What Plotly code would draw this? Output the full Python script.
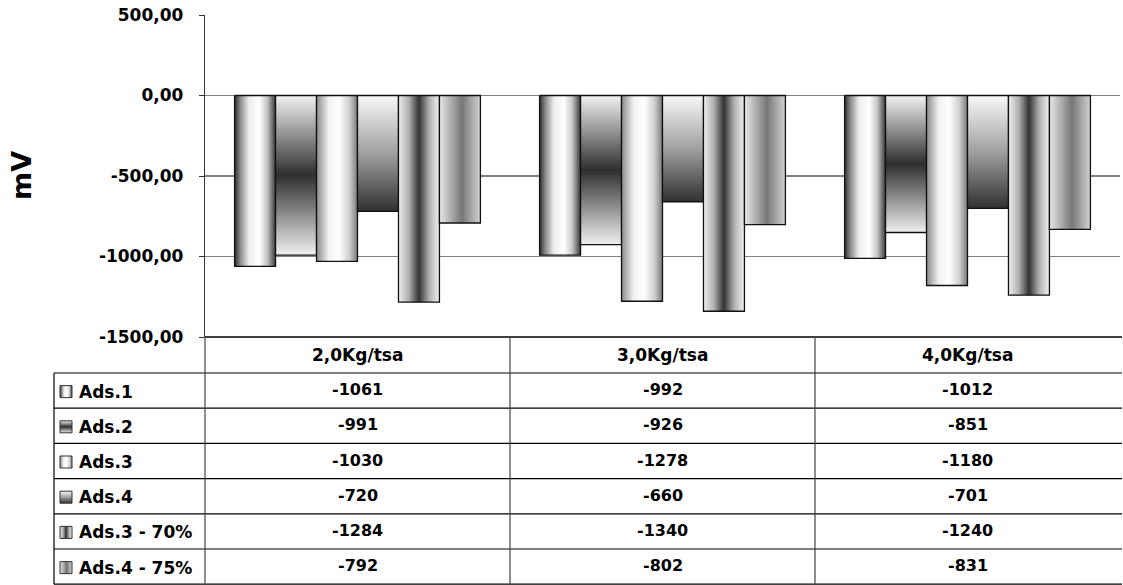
import plotly.graph_objects as go

# ---------------- data ----------------
categories = ["2,0Kg/tsa", "3,0Kg/tsa", "4,0Kg/tsa"]
series_names = ["Ads.1", "Ads.2", "Ads.3", "Ads.4", "Ads.3 - 70%", "Ads.4 - 75%"]
ads1 = [-1061, -992, -1012]
ads2 = [-991, -926, -851]
ads3 = [-1030, -1278, -1180]
ads4 = [-720, -660, -701]
ads3_70 = [-1284, -1340, -1240]
ads4_75 = [-792, -802, -831]
y_tickvals = [500, 0, -500, -1000, -1500]
y_ticktext = ["500,00", "0,00", "-500,00", "-1000,00", "-1500,00"]

series_values = [ads1, ads2, ads3, ads4, ads3_70, ads4_75]

# ---------------- styles ----------------
W, H = 1123, 585
FONT = "DejaVu Sans"
styles = [
    ("horizontal", [[0, "#2e2e2e"], [0.15, "#8f8f8f"], [0.35, "#eeeeee"], [0.6, "#ffffff"], [0.8, "#c4c4c4"], [1, "#383838"]]),
    ("vertical", [[0, "#f0f0f0"], [0.5, "#2e2e2e"], [1, "#f2f2f2"]]),
    ("horizontal", [[0, "#8a8a8a"], [0.3, "#f2f2f2"], [0.55, "#ffffff"], [0.8, "#d0d0d0"], [1, "#7a7a7a"]]),
    ("vertical", [[0, "#303030"], [0.5, "#a0a0a0"], [1, "#f8f8f8"]]),
    ("horizontal", [[0, "#f0f0f0"], [0.25, "#b0b0b0"], [0.5, "#333333"], [0.75, "#b0b0b0"], [1, "#f2f2f2"]]),
    ("horizontal", [[0, "#e8e8e8"], [0.55, "#777777"], [1, "#d2d2d2"]]),
]

plot_left, plot_right, plot_top, plot_bottom = 205, 1120, 15, 337
table_left, table_right = 54, 1122
row_edges = [337, 373] + [373 + 35.2 * k for k in range(1, 7)]


def px_x(p):
    return p / W


def px_y(p):
    return 1 - p / H


group_width = 0.806
bar_w = group_width / len(series_values)

fig = go.Figure()

for j, vals in enumerate(series_values):
    gtype, cscale = styles[j]
    for i, v in enumerate(vals):
        x0 = i - group_width / 2 + j * bar_w
        x1 = x0 + bar_w
        fig.add_trace(go.Scatter(
            x=[x0, x1, x1, x0, x0], y=[0, 0, v, v, 0],
            mode="lines", fill="toself",
            line=dict(color="#111111", width=1.3),
            fillgradient=dict(type=gtype, colorscale=cscale),
            hoverinfo="skip", showlegend=False,
            xaxis="x", yaxis="y",
        ))

# legend icons in the data table
for j, name in enumerate(series_names):
    gtype, cscale = styles[j]
    yc = (row_edges[j + 1] + row_edges[j + 2]) / 2 + 1
    x0, x1 = 60, 72
    y0, y1 = yc - 6, yc + 6
    fig.add_trace(go.Scatter(
        x=[x0, x1, x1, x0, x0], y=[y0, y0, y1, y1, y0],
        mode="lines", fill="toself",
        line=dict(color="#333333", width=1),
        fillgradient=dict(type=gtype, colorscale=cscale),
        hoverinfo="skip", showlegend=False,
        xaxis="x2", yaxis="y2",
    ))

shapes = []
line_col = "#000000"


def hline(y, xa, xb, color=line_col, width=1.2):
    shapes.append(dict(type="line", xref="paper", yref="paper",
                       x0=px_x(xa), x1=px_x(xb), y0=px_y(y), y1=px_y(y),
                       line=dict(color=color, width=width)))


def vline(x, ya, yb, color=line_col, width=1.2):
    shapes.append(dict(type="line", xref="paper", yref="paper",
                       x0=px_x(x), x1=px_x(x), y0=px_y(ya), y1=px_y(yb),
                       line=dict(color=color, width=width)))


hline(row_edges[0], plot_left, table_right, width=1.5)
for r in row_edges[1:]:
    hline(r, table_left, table_right)
col_edges = [plot_left + (plot_right - plot_left) * k / 3 for k in range(4)]
vline(plot_left, row_edges[0], row_edges[-1], color="#444444")
for cx in col_edges[1:3]:
    vline(cx, row_edges[0], row_edges[-1], color="#444444")
vline(table_left, row_edges[1], row_edges[-1])

annotations = []
for i, c in enumerate(categories):
    annotations.append(dict(x=i, xref="x", y=px_y((row_edges[0] + row_edges[1]) / 2), yref="paper",
                            text="<b>%s</b>" % c, showarrow=False,
                            xanchor="center", yanchor="middle",
                            font=dict(family=FONT, size=17, color="#000")))
for j, name in enumerate(series_names):
    yc = (row_edges[j + 1] + row_edges[j + 2]) / 2
    annotations.append(dict(x=px_x(77), xref="paper", y=px_y(yc + 1), yref="paper",
                            text="<b>%s</b>" % name, showarrow=False,
                            xanchor="left", yanchor="middle",
                            font=dict(family=FONT, size=17, color="#000")))
    for i, v in enumerate(series_values[j]):
        annotations.append(dict(x=i, xref="x", y=px_y(yc - 1), yref="paper",
                                text="<b>%d</b>" % v, showarrow=False,
                                xanchor="center", yanchor="middle",
                                font=dict(family=FONT, size=16, color="#000")))
annotations.append(dict(x=px_x(21), xref="paper", y=px_y(176), yref="paper",
                        text="<b>mV</b>", showarrow=False, textangle=-90,
                        xanchor="center", yanchor="middle",
                        font=dict(family=FONT, size=27, color="#000")))

fig.update_layout(
    width=W, height=H,
    margin=dict(l=0, r=0, t=0, b=0, pad=0, autoexpand=False),
    paper_bgcolor="white", plot_bgcolor="rgba(0,0,0,0)",
    showlegend=False,
    xaxis=dict(domain=[px_x(plot_left), px_x(plot_right)], range=[-0.5, 2.5],
               showgrid=False, zeroline=False, showticklabels=False, ticks="",
               anchor="y", fixedrange=True, automargin=False),
    yaxis=dict(domain=[px_y(plot_bottom), px_y(plot_top)], range=[-1500, 500],
               tickvals=y_tickvals, ticktext=y_ticktext,
               tickfont=dict(family=FONT, size=17, color="#000", weight="bold"),
               ticks="outside", ticklen=5, tickcolor="#333333",
               ticklabelstandoff=12,
               showline=True, linecolor="#333333", linewidth=1.2,
               showgrid=True, gridcolor="#808080", gridwidth=1.3,
               zeroline=False, anchor="x", fixedrange=True, automargin=False),
    xaxis2=dict(domain=[0, 1], range=[0, W], visible=False, anchor="y2",
                fixedrange=True, automargin=False),
    yaxis2=dict(domain=[0, 1], range=[H, 0], visible=False, anchor="x2",
                fixedrange=True, automargin=False),
    shapes=shapes,
    annotations=annotations,
)

fig.write_html(
    "out.html",
    config={"displayModeBar": False, "staticPlot": True},
    post_script="document.body.style.margin='0';document.body.style.overflow='hidden';",
)
